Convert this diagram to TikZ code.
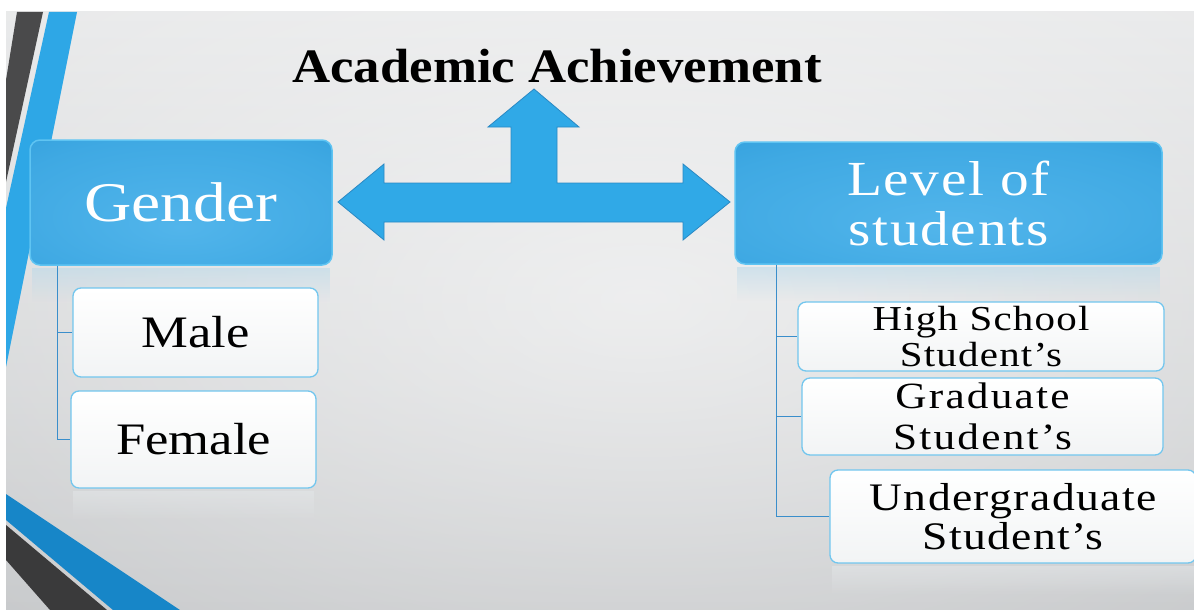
\documentclass[tikz,border=0pt]{standalone}
\usepackage{fontspec}
\setmainfont{Liberation Serif}
\newfontfamily\boxfont{Liberation Serif}[FakeStretch=1.17]
\newfontfamily\spacedfont{Liberation Serif}[FakeStretch=1.17, LetterSpace=3.5]
\newfontfamily\widespacedfont{Liberation Serif}[FakeStretch=1.17, LetterSpace=6]
\newfontfamily\headfont{Liberation Serif}[FakeStretch=1.1]
\usetikzlibrary{calc,fadings}

% palette
\definecolor{bgTop}{HTML}{E6E7E8}
\definecolor{bgMid}{HTML}{EBECEC}
\definecolor{bgBot}{HTML}{C2C4C6}
\definecolor{bandDark}{HTML}{4A4A4B}
\definecolor{bandDarkB}{HTML}{3A3A3B}
\definecolor{bandBlue}{HTML}{2EA7E6}
\definecolor{bandBlueB}{HTML}{1786C8}
\definecolor{boxLight}{HTML}{52B5EB}
\definecolor{boxMid}{HTML}{3FA9E3}
\definecolor{boxDark}{HTML}{2C9AD8}
\definecolor{boxEdge}{HTML}{5FC4F2}
\definecolor{arrowFill}{HTML}{30A9E7}
\definecolor{arrowEdge}{HTML}{2A89C4}
\definecolor{wbEdge}{HTML}{72C6EE}
\definecolor{wbBot}{HTML}{F2F4F5}
\definecolor{connBlue}{HTML}{3A8ECB}
\definecolor{reflBlue}{HTML}{B9D9EA}
\definecolor{reflGrey}{HTML}{E4E7E9}

\pgfdeclareradialshading{bluefill}{\pgfpoint{0bp}{-10bp}}{%
  color(0bp)=(boxLight); color(30bp)=(boxMid); color(50bp)=(boxDark)}
\tikzfading[name=glow, inner color=transparent!35, outer color=transparent!100]

\begin{document}
\begin{tikzpicture}[x=1pt,y=-1pt,
  bluebox/.style={shade, shading=bluefill, rounded corners=10pt, draw=boxEdge,
    line width=1.5pt, text=white, inner sep=0pt, align=center},
  whitebox/.style={shade, top color=white, bottom color=wbBot, rounded corners=8pt,
    draw=wbEdge, line width=1.3pt, text=black, inner sep=0pt, align=center},
  conn/.style={draw=connBlue, line width=1.3pt},
  mirror/.style={path fading=south, fill opacity=0.55},
]
\useasboundingbox (0,0) rectangle (1194,610);
\fill[white] (0,0) rectangle (1194,610);

% slide background
\begin{scope}
  \clip (6,12) rectangle (1194,610);
  \shade[top color=bgTop, middle color=bgMid, bottom color=bgBot] (6,12) rectangle (1194,610);
  \fill[white, path fading=glow, fill opacity=0.9] (640,300) ellipse [x radius=1050, y radius=560];
  % corner bands
  \fill[bandDark] (17,12) -- (43,12) -- (6,182) -- (6,80) -- cycle;
  \fill[bandBlue] (49,12) -- (77,12) -- (6,367) -- (6,208) -- cycle;
  \fill[bandBlueB] (6,494) -- (180,610) -- (113,610) -- (6,520) -- cycle;
  \fill[bandDarkB] (6,525) -- (107,610) -- (50,610) -- (6,560) -- cycle;
\end{scope}

% title
\node[font=\headfont\bfseries\fontsize{48}{50}\selectfont, anchor=base, inner sep=0pt]
  (title) at (557,82) {Academic Achievement};

% three-way arrow
\filldraw[fill=arrowFill, draw=arrowEdge, line width=0.8pt, line join=miter]
  (338,202) -- (384,164) -- (384,183) -- (511,183) -- (511,127) -- (488,127)
  -- (534,89) -- (579,127) -- (557,127) -- (557,183) -- (683,183) -- (683,164)
  -- (730,202) -- (683,240) -- (683,222) -- (384,222) -- (384,240) -- cycle;

% category boxes
\node[bluebox, minimum width=302pt, minimum height=125pt,
  font=\boxfont\fontsize{56}{58}\selectfont] (gender) at (181,202.5) {Gender};
\node[bluebox, minimum width=427pt, minimum height=122pt,
  font=\spacedfont\fontsize{49}{50}\selectfont] (level) at (948.5,203) {Level of\\students};

% reflections under the category boxes
\fill[reflBlue, mirror] ($(gender.south west)+(3,2)$) rectangle ($(gender.south east)+(-3,36)$);
\fill[reflBlue, mirror] ($(level.south west)+(3,2)$) rectangle ($(level.south east)+(-3,36)$);

% item boxes
\node[whitebox, minimum width=245pt, minimum height=89pt,
  font=\boxfont\fontsize{45}{47}\selectfont] (male) at (195.5,332.5) {Male};
\node[whitebox, minimum width=245pt, minimum height=97pt,
  font=\boxfont\fontsize{45}{47}\selectfont] (female) at (193.5,439.5) {Female};
\node[whitebox, minimum width=366pt, minimum height=69pt,
  font=\spacedfont\fontsize{35}{36}\selectfont] (high) at (981,336.5) {High School\\Student’s};
\node[whitebox, minimum width=361pt, minimum height=77pt,
  font=\widespacedfont\fontsize{37}{41}\selectfont] (grad) at (982.5,416.5) {Graduate\\Student’s};
\node[whitebox, minimum width=366pt, minimum height=93pt,
  font=\spacedfont\fontsize{39}{39}\selectfont] (under) at (1013,516.5) {Undergraduate\\Student’s};

% faint reflections under the lower item boxes
\fill[reflGrey, mirror] ($(female.south west)+(3,2)$) rectangle ($(female.south east)+(-3,32)$);
\fill[reflGrey, mirror] ($(under.south west)+(3,2)$) rectangle ($(under.south east)+(-3,32)$);

% tree connectors
\coordinate (gtrunk) at ($(gender.south west)+(28,0)$);
\coordinate (ltrunk) at ($(level.south west)+(42,0)$);
\draw[conn] (gtrunk) |- (male.west);
\draw[conn] (gtrunk) |- (female.west);
\draw[conn] (ltrunk) |- (high.west);
\draw[conn] (ltrunk) |- (grad.west);
\draw[conn] (ltrunk) |- (under.west);
\end{tikzpicture}
\end{document}
